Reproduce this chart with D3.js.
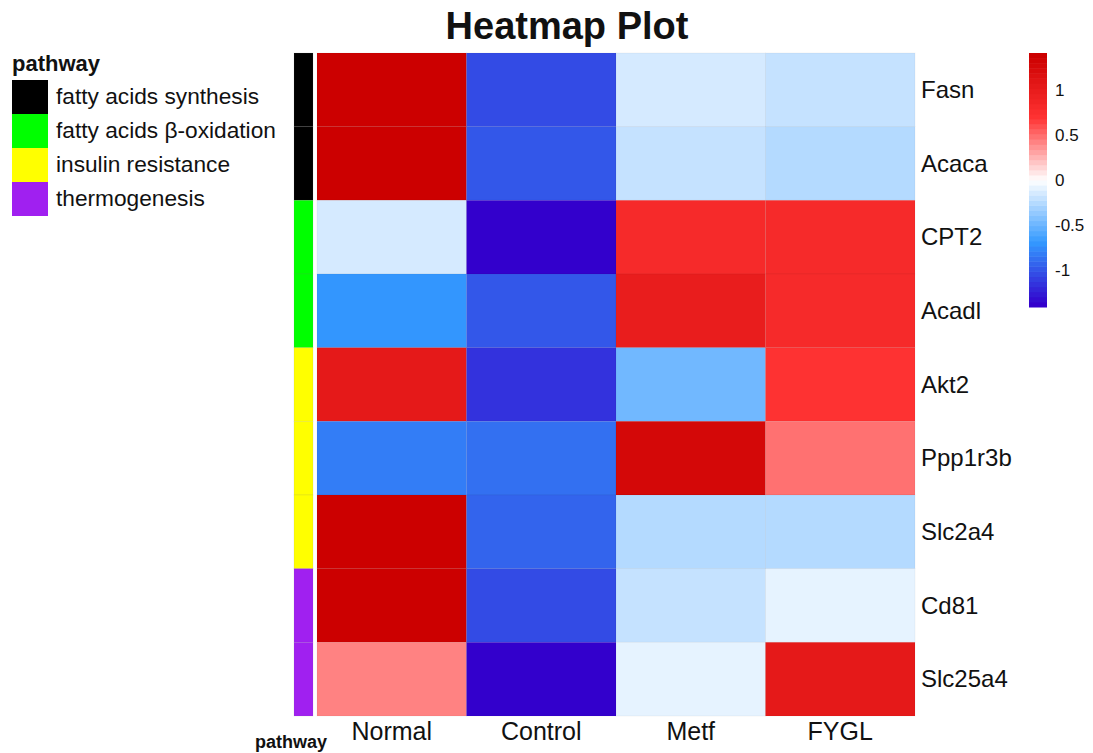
<!DOCTYPE html>
<html>
<head>
<meta charset="utf-8">
<script src="https://cdn.jsdelivr.net/npm/d3@7"></script>
<style>
    body { margin: 0; background: #fff; }
    svg text { font-family: "Liberation Sans", Arial, sans-serif; fill: #111; }
    .title { font-size: 38px; font-weight: bold; }
    .rowLabel { font-size: 24px; }
    .colLabel { font-size: 25px; }
    .legendTitle { font-size: 22px; font-weight: bold; }
    .legendText { font-size: 22.7px; }
    .scaleText { font-size: 17px; }
    .annoName { font-size: 18px; font-weight: bold; }
</style>
</head>
<body>
<script>
(function(){

    //data (row scaled expression)
    var genes = ["Fasn", "Acaca", "CPT2", "Acadl", "Akt2", "Ppp1r3b", "Slc2a4", "Cd81", "Slc25a4"];
    var groups = ["Normal", "Control", "Metf", "FYGL"];
    var normal  = [1.43, 1.41, -0.12, -0.70, 1.04, -0.83, 1.41, 1.40, 0.40];
    var control = [-1.02, -0.98, -1.39, -0.98, -1.14, -0.85, -0.92, -1.05, -1.39];
    var metf    = [-0.12, -0.19, 0.82, 1.01, -0.46, 1.26, -0.24, -0.19, -0.08];
    var fygl    = [-0.19, -0.24, 0.82, 0.82, 0.68, 0.46, -0.24, -0.08, 1.04];

    //pathway annotation of each gene
    var genePathway = ["fatty acids synthesis", "fatty acids synthesis",
                       "fatty acids \u03b2-oxidation", "fatty acids \u03b2-oxidation",
                       "insulin resistance", "insulin resistance", "insulin resistance",
                       "thermogenesis", "thermogenesis"];
    var pathwayNames = ["fatty acids synthesis", "fatty acids \u03b2-oxidation", "insulin resistance", "thermogenesis"];
    var pathwayColors = ["#000000", "#00FF00", "#FFFF00", "#A020F0"];

    //colour bar ticks
    var scaleTicks = [1, 0.5, 0, -0.5, -1];
    var scaleTickLabels = ["1", "0.5", "0", "-0.5", "-1"];

    var width = 1093,
        height = 753;

    var svg = d3.select("body")
        .append("svg")
        .attr("width", width)
        .attr("height", height);

    //join the group arrays into cells
    var seriesList = [normal, control, metf, fygl];
    var cells = [];
    for (var c=0; c<groups.length; c++){
        for (var r=0; r<genes.length; r++){
            cells.push({gene: genes[r], group: groups[c], value: seriesList[c][r]});
        };
    };

    //symmetric limit like pheatmap does for scaled rows
    var lim = 1.41;

    //palette: 50 steps blue - white - red
    var ramp = d3.scaleLinear()
        .domain([0, 0.25, 0.5, 0.75, 1])
        .range(["#3300CC", "#3399FF", "#FFFFFF", "#FF3333", "#CC0000"])
        .interpolate(d3.interpolateRgb);
    var nCol = 50;
    var palette = d3.range(nCol).map(function(i){ return ramp(i / (nCol - 1)); });
    var colorScale = d3.scaleQuantize()
        .domain([-lim, lim])
        .range(palette);
    function cellColor(v){
        return colorScale(Math.max(-lim, Math.min(lim, v)));
    };

    //heatmap scales
    var x = d3.scaleBand()
        .domain(groups)
        .range([317, 915]);
    var y = d3.scaleBand()
        .domain(genes)
        .range([53, 716]);

    //title
    svg.append("text")
        .attr("class", "title")
        .attr("x", 567)
        .attr("y", 39)
        .attr("text-anchor", "middle")
        .text("Heatmap Plot");

    //cells
    svg.selectAll(".cell")
        .data(cells)
        .enter()
        .append("rect")
        .attr("class", "cell")
        .attr("x", function(d){ return x(d.group); })
        .attr("y", function(d){ return y(d.gene); })
        .attr("width", x.bandwidth())
        .attr("height", y.bandwidth())
        .style("fill", function(d){ return cellColor(d.value); })
        .style("stroke", "rgba(0,0,0,0.04)")
        .style("stroke-width", 1);

    //pathway annotation column
    var pathColor = d3.scaleOrdinal()
        .domain(pathwayNames)
        .range(pathwayColors);
    svg.selectAll(".anno")
        .data(genes)
        .enter()
        .append("rect")
        .attr("class", "anno")
        .attr("x", 294)
        .attr("y", function(d){ return y(d); })
        .attr("width", 19)
        .attr("height", y.bandwidth())
        .style("fill", function(d, i){ return pathColor(genePathway[i]); })
        .style("stroke", "rgba(128,128,128,0.15)")
        .style("stroke-width", 0.8);

    //row labels
    svg.selectAll(".rowLabel")
        .data(genes)
        .enter()
        .append("text")
        .attr("class", "rowLabel")
        .attr("x", 921)
        .attr("y", function(d){ return y(d) + y.bandwidth() / 2 + 8; })
        .text(function(d){ return d; });

    //column labels
    svg.selectAll(".colLabel")
        .data(groups)
        .enter()
        .append("text")
        .attr("class", "colLabel")
        .attr("x", function(d){ return x(d) + x.bandwidth() / 2; })
        .attr("y", 740)
        .attr("text-anchor", "middle")
        .text(function(d){ return d; });

    //annotation name under the column
    svg.append("text")
        .attr("class", "annoName")
        .attr("x", 255)
        .attr("y", 748)
        .text("pathway");

    //pathway legend
    svg.append("text")
        .attr("class", "legendTitle")
        .attr("x", 12)
        .attr("y", 71)
        .text("pathway");
    var legY = d3.scaleBand()
        .domain(pathwayNames)
        .range([80, 216]);
    svg.selectAll(".legendBox")
        .data(pathwayNames)
        .enter()
        .append("rect")
        .attr("class", "legendBox")
        .attr("x", 12)
        .attr("y", function(d){ return legY(d); })
        .attr("width", 36)
        .attr("height", legY.bandwidth())
        .style("fill", function(d){ return pathColor(d); });
    svg.selectAll(".legendText")
        .data(pathwayNames)
        .enter()
        .append("text")
        .attr("class", "legendText")
        .attr("x", 56)
        .attr("y", function(d){ return legY(d) + legY.bandwidth() / 2 + 7; })
        .text(function(d){ return d; });

    //colour bar
    var barScale = d3.scaleLinear()
        .domain([-lim, lim])
        .range([307, 53]);
    var step = 2 * lim / nCol;
    svg.selectAll(".scaleRect")
        .data(palette)
        .enter()
        .append("rect")
        .attr("class", "scaleRect")
        .attr("x", 1029)
        .attr("y", function(d, i){ return barScale(-lim + (i + 1) * step); })
        .attr("width", 18)
        .attr("height", function(d, i){ return barScale(-lim + i * step) - barScale(-lim + (i + 1) * step) + 0.5; })
        .style("fill", function(d){ return d; });
    svg.selectAll(".scaleText")
        .data(scaleTicks)
        .enter()
        .append("text")
        .attr("class", "scaleText")
        .attr("x", 1055)
        .attr("y", function(d){ return barScale(d) + 6; })
        .text(function(d, i){ return scaleTickLabels[i]; });

})();
</script>
</body>
</html>
